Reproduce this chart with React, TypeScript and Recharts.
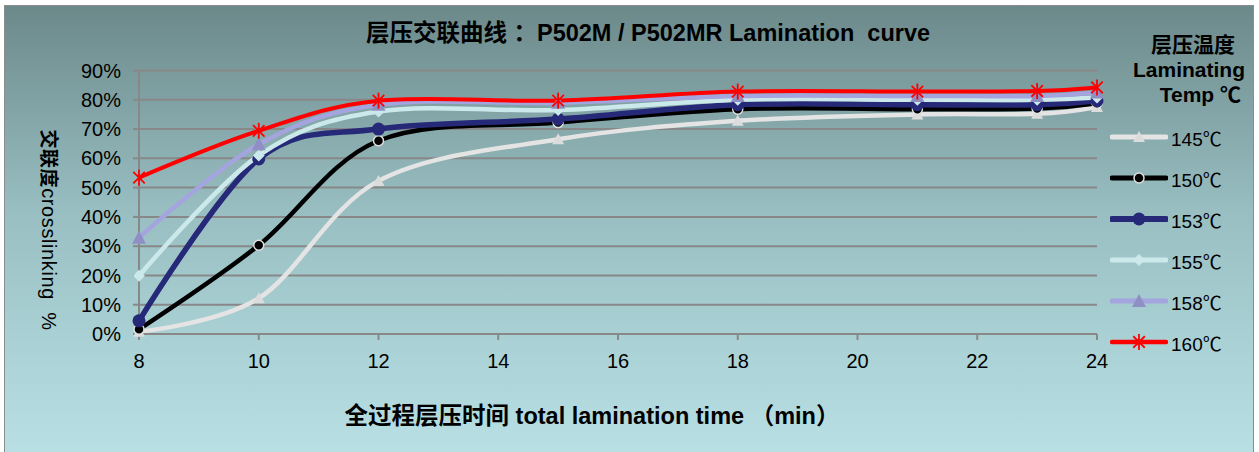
import React from 'react';
import { LineChart, Line, XAxis, YAxis, CartesianGrid } from 'recharts';

const times = [8, 10, 12, 15, 18, 21, 23, 24];
const xTicks = [8, 10, 12, 14, 16, 18, 20, 22, 24];
const yTicks = [0, 10, 20, 30, 40, 50, 60, 70, 80, 90];

const s145 = [0.8, 12.2, 52.3, 66.5, 72.8, 75, 75.2, 77.5];
const s150 = [1.6, 30.3, 66, 72.2, 76.8, 76.8, 77, 78.8];
const s153 = [4.5, 59.8, 70, 73.4, 78.3, 78.3, 78.3, 79.7];
const s155 = [19.9, 61, 76, 76.5, 80, 80, 80, 80.8];
const s158 = [32.9, 64.8, 78.3, 79, 81.3, 81.3, 81.3, 82.5];
const s160 = [53.4, 69.4, 79.7, 79.7, 82.8, 82.8, 83, 84.2];

const seriesNames = ['145℃', '150℃', '153℃', '155℃', '158℃', '160℃'];
const seriesValues = [s145, s150, s153, s155, s158, s160];
const seriesKeys = ['t145', 't150', 't153', 't155', 't158', 't160'];
const seriesColors = ['#e4e4e4', '#000000', '#262878', '#cbe9ea', '#a4a4de', '#ff0000'];
const seriesWidths = [4.5, 4.5, 5.5, 4.5, 4.5, 4];
const markerKinds = ['triangleLight', 'circleSmall', 'circleBig', 'diamond', 'triangle', 'asterisk'];

const data = times.map((t, i) => {
  const row: any = { t };
  seriesKeys.forEach((k, j) => (row[k] = seriesValues[j][i]));
  return row;
});

const FONT = '"Liberation Sans", Arial, "Noto Sans CJK SC", sans-serif';

// Cardinal (Catmull-Rom like) curve factory, similar to Excel smoothed line
function smoothCurve(context: any) {
  const k = 1 / 6;
  const self: any = {
    _context: context,
    _line: NaN,
    areaStart() { self._line = 0; },
    areaEnd() { self._line = NaN; },
    lineStart() {
      self._x0 = self._x1 = self._x2 = self._y0 = self._y1 = self._y2 = NaN;
      self._point = 0;
    },
    lineEnd() {
      switch (self._point) {
        case 2: context.lineTo(self._x2, self._y2); break;
        case 3: seg(self._x1, self._y1); break;
      }
      if (self._line || (self._line !== 0 && self._point === 1)) context.closePath();
      self._line = 1 - self._line;
    },
    point(x: number, y: number) {
      x = +x; y = +y;
      switch (self._point) {
        case 0: self._point = 1; self._line ? context.lineTo(x, y) : context.moveTo(x, y); break;
        case 1: self._point = 2; self._x1 = x; self._y1 = y; break;
        case 2: self._point = 3; seg(x, y); break;
        default: seg(x, y); break;
      }
      self._x0 = self._x1; self._x1 = self._x2; self._x2 = x;
      self._y0 = self._y1; self._y1 = self._y2; self._y2 = y;
    },
  };
  function seg(x: number, y: number) {
    context.bezierCurveTo(
      self._x1 + k * (self._x2 - self._x0),
      self._y1 + k * (self._y2 - self._y0),
      self._x2 + k * (self._x1 - x),
      self._y2 + k * (self._y1 - y),
      self._x2,
      self._y2
    );
  }
  return self;
}

function Marker({ kind, cx, cy }: { kind: string; cx: number; cy: number }) {
  if (cx == null || cy == null) return null;
  switch (kind) {
    case 'triangleLight':
      return <polygon points={`${cx},${cy - 6} ${cx + 6},${cy + 5} ${cx - 6},${cy + 5}`} fill="#dcdcdc" />;
    case 'circleSmall':
      return <circle cx={cx} cy={cy} r={5} fill="#000" stroke="#e0e0e0" strokeWidth={1.5} />;
    case 'circleBig':
      return <circle cx={cx} cy={cy} r={6.5} fill="#262878" />;
    case 'diamond':
      return <polygon points={`${cx},${cy - 6} ${cx + 6},${cy} ${cx},${cy + 6} ${cx - 6},${cy}`} fill="#cbe9ea" />;
    case 'triangle':
      return <polygon points={`${cx},${cy - 7} ${cx + 7},${cy + 6} ${cx - 7},${cy + 6}`} fill="#8f8fc6" />;
    case 'asterisk': {
      const r = 8;
      const d = r * 0.72;
      return (
        <g stroke="#ff0000" strokeWidth={1.8}>
          <line x1={cx - d} y1={cy - d} x2={cx + d} y2={cy + d} />
          <line x1={cx - d} y1={cy + d} x2={cx + d} y2={cy - d} />
          <line x1={cx} y1={cy - r} x2={cx} y2={cy + r} />
        </g>
      );
    }
  }
  return null;
}

function LegendIcon({ idx }: { idx: number }) {
  return (
    <svg width={58} height={16} style={{ display: 'block' }}>
      <line x1={2} y1={8} x2={56} y2={8} stroke={seriesColors[idx]} strokeWidth={seriesWidths[idx] + 0.5} strokeLinecap="round" />
      <Marker kind={markerKinds[idx]} cx={29} cy={8} />
    </svg>
  );
}

export default function App() {
  return (
    <div style={{ position: 'absolute', left: 0, top: 0, width: 1259, height: 452, background: '#fff', overflow: 'hidden', fontFamily: FONT }}>
      <div
        style={{
          position: 'absolute',
          left: 4,
          top: 5,
          width: 1248,
          height: 452,
          border: '1.5px solid #8c8c8c',
          background: 'linear-gradient(to bottom, #6c898a 0%, #98bec1 45%, #b9e1e5 100%)',
        }}
      />
      <div style={{ position: 'absolute', left: 0, top: 0 }}>
        <LineChart width={1259} height={452} data={data} margin={{ top: 70.5, right: 162, bottom: 88, left: 0 }}>
          <CartesianGrid horizontal vertical={false} stroke="#888888" strokeWidth={2} />
          <XAxis
            dataKey="t"
            type="number"
            domain={[8, 24]}
            ticks={xTicks}
            height={30}
            tickSize={6}
            tickMargin={14}
            stroke="#888888"
            strokeWidth={2}
            tick={{ fill: '#000', fontSize: 20, fontFamily: FONT }}
            interval={0}
          />
          <YAxis
            type="number"
            domain={[0, 90]}
            ticks={yTicks}
            width={139}
            tickSize={6}
            tickMargin={12}
            stroke="#888888"
            strokeWidth={2}
            tickFormatter={(v: number) => `${v}%`}
            tick={{ fill: '#000', fontSize: 20, fontFamily: FONT }}
            interval={0}
          />
          {seriesKeys.map((k, i) => (
            <Line
              key={k}
              dataKey={k}
              name={seriesNames[i]}
              type={smoothCurve as any}
              stroke={seriesColors[i]}
              strokeWidth={seriesWidths[i]}
              isAnimationActive={false}
              dot={(p: any) => (
                <g key={`${k}-${p.index}`}>
                  <Marker kind={markerKinds[i]} cx={p.cx} cy={p.cy} />
                </g>
              )}
              activeDot={false}
            />
          ))}
        </LineChart>
      </div>
      <div style={{ position: 'absolute', left: 0, width: 1296, top: 14, textAlign: 'center', fontSize: 23.5, fontWeight: 'bold', color: '#000', whiteSpace: 'pre' }}>
        {'层压交联曲线 ：P502M / P502MR Lamination  curve'}
      </div>
      <div style={{ position: 'absolute', left: 0, width: 1184, top: 397, textAlign: 'center', fontSize: 23.5, fontWeight: 'bold', color: '#000', whiteSpace: 'pre' }}>
        {'全过程层压时间 total lamination time （min）'}
      </div>
      <div
        style={{
          position: 'absolute',
          left: 50,
          top: 230,
          transform: 'translate(-50%, -50%) rotate(90deg)',
          fontSize: 20,
          letterSpacing: 0.6,
          color: '#000',
          whiteSpace: 'pre',
        }}
      >
        <span style={{ fontWeight: 'bold', fontSize: 19 }}>交联度</span>
        {'crosslinking  %'}
      </div>
      <div style={{ position: 'absolute', right: 14, top: 32, textAlign: 'right', fontSize: 21, fontWeight: 'bold', lineHeight: '25px', color: '#000' }}>
        <div style={{ paddingRight: 10 }}>层压温度</div>
        <div>Laminating</div>
        <div style={{ paddingRight: 4 }}>Temp ℃</div>
      </div>
      {seriesNames.map((n, i) => (
        <div key={n} style={{ position: 'absolute', left: 1110, top: 137 + i * 41 - 8, display: 'flex', alignItems: 'center', height: 16 }}>
          <LegendIcon idx={i} />
          <span style={{ fontSize: 19, marginLeft: 3, color: '#000' }}>{n}</span>
        </div>
      ))}
    </div>
  );
}
